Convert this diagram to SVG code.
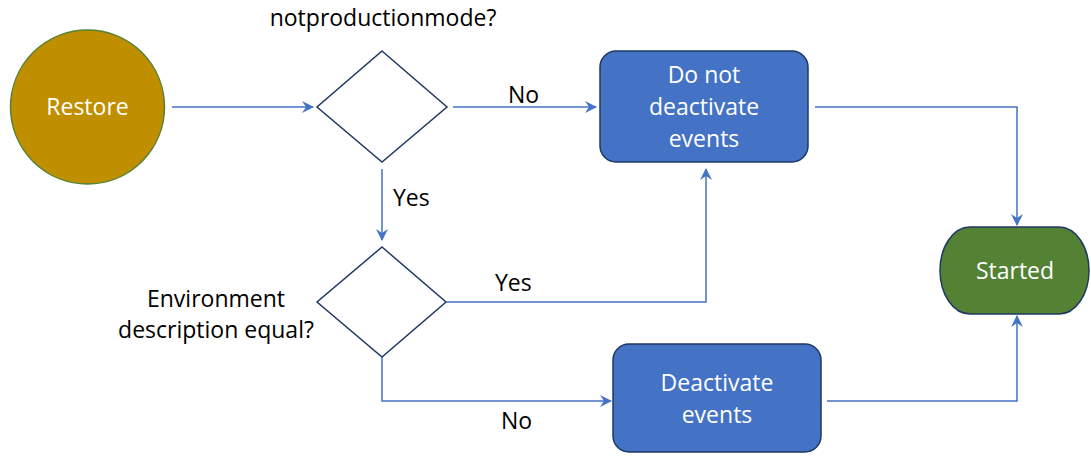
<svg xmlns="http://www.w3.org/2000/svg" width="1091" height="456" viewBox="0 0 1091 456">
<defs>
<style>
.lbl{font-family:"Open Sans","Liberation Sans",sans-serif;font-size:23px;fill:#000}
.wt{font-family:"Open Sans","Liberation Sans",sans-serif;font-size:23px;fill:#fff;text-anchor:middle}
.con{fill:none;stroke:#4472C4;stroke-width:1.5}
.dia{fill:#fff;stroke:#1F3864;stroke-width:1.5}
.box{fill:#4472C4;stroke:#1F3864;stroke-width:1.5}
</style>
<marker id="ah" viewBox="0 0 12 12" refX="11" refY="6" markerWidth="12" markerHeight="12" markerUnits="userSpaceOnUse" orient="auto">
<path d="M0,0 L12,6 L0,12 L4,6 Z" fill="#4472C4"/>
</marker>
</defs>
<rect width="1091" height="456" fill="#fff"/>
<g id="restore">
<circle cx="87.5" cy="107" r="77" fill="#BF8F00" stroke="#548235" stroke-width="1.5"/>
<text class="wt" x="87.5" y="115">Restore</text>
</g>
<g id="decision1">
<polygon class="dia" points="382,51 447,107 382,162 317,107"/>
<text class="lbl" x="383" y="26" text-anchor="middle">notproductionmode?</text>
</g>
<g id="donot">
<rect class="box" x="600" y="51" width="208" height="111" rx="16"/>
<text class="wt" x="704" y="83">Do not</text>
<text class="wt" x="704" y="115">deactivate</text>
<text class="wt" x="704" y="147">events</text>
</g>
<g id="decision2">
<polygon class="dia" points="382,247 446,302 382,357 317,302"/>
<text class="lbl" x="216" y="307" text-anchor="middle">Environment</text>
<text class="lbl" x="216" y="338" text-anchor="middle">description equal?</text>
</g>
<g id="deactivate">
<rect class="box" x="613" y="344" width="208" height="108" rx="16"/>
<text class="wt" x="717" y="391">Deactivate</text>
<text class="wt" x="717" y="423">events</text>
</g>
<g id="started">
<path d="M970,227 L1059,227 A30,43.5 0 0 1 1059,314 L970,314 A30,43.5 0 0 1 970,227 Z" fill="#548235" stroke="#1F3864" stroke-width="1.5"/>
<text class="wt" x="1015" y="279">Started</text>
</g>
<g id="connectors">
<line class="con" x1="172" y1="107" x2="313" y2="107" marker-end="url(#ah)"/>
<line class="con" x1="453" y1="107" x2="596" y2="107" marker-end="url(#ah)"/>
<polyline class="con" points="815,107 1017,107 1017,225" marker-end="url(#ah)"/>
<line class="con" x1="382" y1="169" x2="382" y2="240" marker-end="url(#ah)"/>
<polyline class="con" points="446,302 706,302 706,169" marker-end="url(#ah)"/>
<polyline class="con" points="382,357 382,401 611,401" marker-end="url(#ah)"/>
<polyline class="con" points="827,401 1017,401 1017,316" marker-end="url(#ah)"/>
<text class="lbl" x="508" y="103">No</text>
<text class="lbl" x="393" y="206">Yes</text>
<text class="lbl" x="495" y="291">Yes</text>
<text class="lbl" x="501" y="429">No</text>
</g>
</svg>
